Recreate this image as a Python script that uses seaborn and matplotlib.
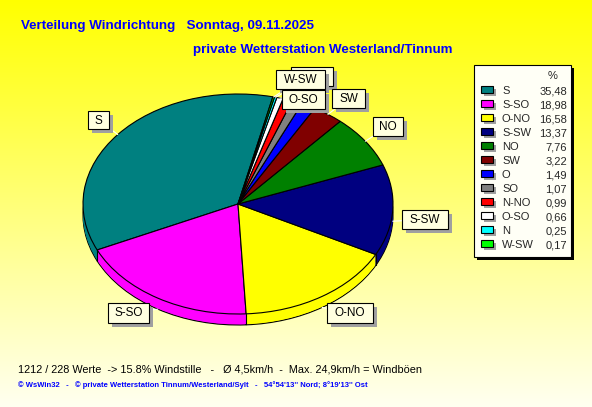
import numpy as np
import seaborn as sns
import matplotlib.pyplot as plt
from matplotlib.patches import Rectangle

# wind direction shares (%)
directions = ['S', 'S-SO', 'O-NO', 'S-SW', 'NO', 'SW', 'O', 'SO', 'N-NO', 'O-SO', 'N', 'W-SW']
shares = [35.48, 18.98, 16.58, 13.37, 7.76, 3.22, 1.49, 1.07, 0.99, 0.66, 0.25, 0.17]
slice_colors = ['#008080', '#FF00FF', '#FFFF00', '#000080', '#008000', '#800000',
                '#0000FF', '#808080', '#FF0000', '#FFFFFF', '#00FFFF', '#00FF00']

title_1 = 'Verteilung Windrichtung   Sonntag, 09.11.2025'
title_2 = 'private Wetterstation Westerland/Tinnum'
footer_1 = '1212 / 228 Werte  -> 15.8% Windstille   -   Ø 4,5km/h  -  Max. 24,9km/h = Windböen'
footer_2 = "© WsWin32   -   © private Wetterstation Tinnum/Westerland/Sylt   -   54°54'13'' Nord; 8°19'13'' Ost"

# label boxes in pixels (x0, y0, x1, y1), drawn in this order; the N box is hidden behind W-SW
label_boxes = {'N': (291, 67, 333, 86),
               'W-SW': (276, 70, 325, 89),
               'O-SO': (282, 90, 325, 109),
               'SW': (332, 89, 365, 108),
               'NO': (373, 117, 403, 136),
               'S-SW': (402, 210, 448, 229),
               'O-NO': (327, 303, 373, 323),
               'S-SO': (108, 303, 149, 323),
               'S': (88, 111, 109, 129)}
hidden_labels = ['N']

W, H = 592, 407
cx, cy, rx, ry, depth = 238, 204, 155, 110, 11
start = 77

sns.set_style('white')
plt.rcParams['font.family'] = ['Liberation Sans', 'DejaVu Sans']
palette = sns.color_palette(slice_colors)

fig = plt.figure(figsize=(W / 100, H / 100), dpi=100)

# background gradient
bg = fig.add_axes([0, 0, 1, 1])
grad = np.linspace(0, 1, 256)[:, None]
img = np.ones((256, 2, 3))
img[:, :, 2] = (grad * 240 / 255)
bg.imshow(img, extent=[0, W, H, 0], aspect='auto', interpolation='bilinear')
bg.set_xlim(0, W)
bg.set_ylim(H, 0)
bg.axis('off')

# pie, squashed into an ellipse with a little depth
pax = fig.add_axes([(cx - rx) / W, (H - (cy + ry + depth)) / H, 2 * rx / W, (2 * ry + depth) / H])
d = depth / ry
offsets = np.linspace(d, 0.005, 14)
for k, off in enumerate(offsets):
    pax.pie(shares, colors=palette, startangle=start, counterclock=True, center=(0, -off),
            wedgeprops=dict(edgecolor='black' if k == 0 else 'none', linewidth=0.8))
pax.pie(shares, colors=palette, startangle=start, counterclock=True,
        wedgeprops=dict(edgecolor='black', linewidth=0.8))
bounds = start + 360 * np.cumsum(shares) / np.sum(shares)
for b in np.radians(bounds):
    if np.sin(b) < 0:
        pax.plot([np.cos(b)] * 2, [np.sin(b), np.sin(b) - d], color='black', lw=0.8)
pax.set_aspect('auto')
pax.set_xlim(-1, 1)
pax.set_ylim(-1 - d, 1)
pax.axis('off')

# overlay in pixel coordinates
ov = fig.add_axes([0, 0, 1, 1])
ov.set_xlim(0, W)
ov.set_ylim(H, 0)
ov.axis('off')
ov.patch.set_alpha(0)

mids = np.radians(start + 360 * (np.cumsum(shares) - np.array(shares) / 2) / np.sum(shares))
for name, (x0, y0, x1, y1) in label_boxes.items():
    i = directions.index(name)
    ex, ey = cx + rx * np.cos(mids[i]), cy - ry * np.sin(mids[i])
    if np.sin(mids[i]) < 0:
        ey += depth
    bx, by = (x0 + x1) / 2, (y0 + y1) / 2
    ov.plot([ex, bx], [ey, by], color='white', lw=0.8, zorder=3)
    ov.add_patch(Rectangle((x0 + 4, y0 + 4), x1 - x0, y1 - y0, fc='#A0A0A0', ec='none', zorder=4))
    ov.add_patch(Rectangle((x0, y0), x1 - x0, y1 - y0, fc='#FFFFE0', ec='black', lw=0.8, zorder=4))
    if name not in hidden_labels:
        ov.text(bx, by + 0.5, name, ha='center', va='center', fontsize=8.5, color='black', zorder=5)

# legend
lx0, ly0, lx1, ly1 = 474, 65, 571, 257
ov.add_patch(Rectangle((lx0 + 3, ly0 + 3), lx1 - lx0, ly1 - ly0, fc='black', ec='none', zorder=4))
ov.add_patch(Rectangle((lx0, ly0), lx1 - lx0, ly1 - ly0, fc='#FFFFF6', ec='black', lw=0.8, zorder=4))
ov.text(553, 76, '%', ha='center', va='center', fontsize=8, zorder=5)
for i, (name, val) in enumerate(zip(directions, shares)):
    y = 91 + i * 14
    ov.add_patch(Rectangle((484, y - 2), 12, 7, fc='#A0A0A0', ec='none', zorder=5))
    ov.add_patch(Rectangle((481, y - 5), 12, 7, fc=palette[i], ec='black', lw=0.8, zorder=6))
    ov.text(502, y, name, ha='left', va='center', fontsize=8, zorder=6)
    ov.text(567, y, f'{val:.2f}'.replace('.', ','), ha='right', va='center', fontsize=8, zorder=6)

# texts
ov.text(21, 26, title_1, ha='left', va='center', fontsize=9.6, fontweight='bold', color='#0000FF')
ov.text(193, 50, title_2, ha='left', va='center', fontsize=9.6, fontweight='bold', color='#0000FF')
ov.text(18, 369, footer_1, ha='left', va='center', fontsize=7.8, color='black')
ov.text(18, 385, footer_2, ha='left', va='center', fontsize=5.5, fontweight='bold', color='#0000FF')

fig.savefig('out.png', dpi=100)
